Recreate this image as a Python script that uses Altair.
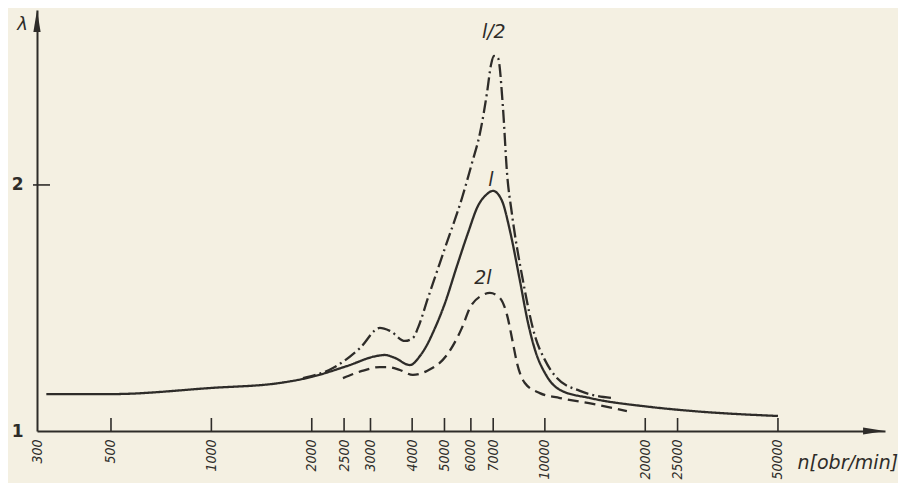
import altair as alt
import pandas as pd
import math

# ---- data ----
# solid curve "l"
l_n = [320, 500, 1000, 1600, 2000, 2550, 3135, 3310, 3550, 3940, 4222, 4432, 4618, 5018, 5451, 5882,
       6302, 6660, 6990, 7440, 7860, 8420, 8900, 9340, 10080, 11100, 13650, 20650, 27800, 50000]
l_lam = [1.15, 1.15, 1.175, 1.195, 1.22, 1.264, 1.305, 1.309, 1.297, 1.268, 1.305, 1.35, 1.40, 1.52,
         1.671, 1.805, 1.915, 1.959, 1.976, 1.935, 1.813, 1.61, 1.44, 1.33, 1.228, 1.167, 1.134,
         1.098, 1.081, 1.061]

# dash-dot curve "l/2"
h_n = [1883, 2315, 2790, 3200, 3430, 3805, 4022, 4164, 4463, 5018, 5643, 6046, 6390, 6706, 6894,
       7038, 7235, 7489, 7700, 7960, 8600, 9340, 10000, 10870, 12740, 15900]
h_lam = [1.215, 1.256, 1.337, 1.419, 1.407, 1.366, 1.378, 1.419, 1.541, 1.744, 1.947, 2.089, 2.211,
         2.374, 2.488, 2.524, 2.516, 2.313, 2.049, 1.886, 1.61, 1.386, 1.289, 1.215, 1.163, 1.134]

# dashed curve "2l"
d_n = [2480, 2830, 3200, 3385, 3675, 4020, 4430, 5085, 5640, 5960, 6520, 6840, 7330, 7700, 8020,
       8250, 8710, 9660, 11100, 13930, 17620]
d_lam = [1.215, 1.244, 1.26, 1.26, 1.248, 1.228, 1.244, 1.309, 1.419, 1.5, 1.553, 1.561, 1.541,
         1.472, 1.358, 1.276, 1.195, 1.154, 1.134, 1.11, 1.081]

series_names = ["l", "l/2", "2l"]

# curve labels
lab_text = ["l/2", "l", "2l"]
lab_n = [7030, 6890, 6520]
lab_lam = [2.62, 2.02, 1.62]

x_ticks = [300, 500, 1000, 2000, 2500, 3000, 4000, 5000, 6000, 7000, 10000, 20000, 25000, 50000]
y_ticks = [1, 2]

# ---- frame ----
X_MIN, X_MAX = 300, 104700
Y_MIN, Y_MAX = 1.0, 2.711
W, H = 848, 421
INK = "#2e2c29"
PAPER = "#f4f0e2"
FONT = "DejaVu Sans"
NUMFONT = "DejaVu Sans Condensed, DejaVu Sans"

rows = []
for name, ns, ls in [("l", l_n, l_lam), ("l/2", h_n, h_lam), ("2l", d_n, d_lam)]:
    for n, v in zip(ns, ls):
        rows.append({"series": name, "n": n, "lam": v})
curves = pd.DataFrame(rows)

xscale = alt.Scale(type="log", domain=[X_MIN, X_MAX], nice=False)
yscale = alt.Scale(domain=[Y_MIN, Y_MAX], nice=False, zero=False)

xaxis = alt.Axis(values=x_ticks, format="d", labelAngle=-90, labelFlush=False, labelOverlap=False,
                 grid=False, ticks=False, domain=True, domainColor=INK, domainWidth=2,
                 labelFont=NUMFONT, labelFontSize=14, labelFontStyle="italic", labelColor=INK,
                 labelPadding=8,
                 title="n[obr/min]", titleAngle=0, titleAlign="left", titleBaseline="alphabetic",
                 titleX=760, titleY=37, titleFont=FONT, titleFontSize=19, titleFontStyle="italic",
                 titleFontWeight="normal", titleColor=INK)
yaxis = alt.Axis(values=y_ticks, format="d", grid=False, ticks=False, domain=True, domainColor=INK,
                 domainWidth=2, labelFont=FONT, labelFontSize=17, labelFontWeight="bold",
                 labelColor=INK, labelPadding=14,
                 title="λ", titleAngle=0, titleAlign="center", titleBaseline="middle",
                 titleX=-15, titleY=14, titleFont=FONT, titleFontSize=18,
                 titleFontStyle="italic", titleFontWeight="normal", titleColor=INK)

base = alt.Chart(curves)

lines = base.mark_line(interpolate="monotone", strokeWidth=2.3, color=INK).encode(
    x=alt.X("n:Q", scale=xscale, axis=xaxis),
    y=alt.Y("lam:Q", scale=yscale, axis=yaxis),
    detail="series:N",
    strokeDash=alt.StrokeDash("series:N", legend=None,
                              scale=alt.Scale(domain=series_names,
                                              range=[[1, 0], [13, 4, 2, 4], [11, 6]])),
)

# x ticks pointing inward
tick_len = 13 / (H / (Y_MAX - Y_MIN))
xt = alt.Chart(pd.DataFrame({"n": x_ticks[1:]})).mark_rule(color=INK, strokeWidth=1.6).encode(
    x=alt.X("n:Q", scale=xscale),
    y=alt.datum(Y_MIN),
    y2=alt.datum(Y_MIN + tick_len),
)
# y tick at 2
px_per_dec = W / math.log10(X_MAX / X_MIN)
yt = alt.Chart(pd.DataFrame({"lam": [2]})).mark_rule(color=INK, strokeWidth=1.6).encode(
    y=alt.Y("lam:Q", scale=yscale),
    x=alt.datum(X_MIN / 10 ** (4 / px_per_dec)),
    x2=alt.datum(X_MIN * 10 ** (13 / px_per_dec)),
)

# arrow heads
arrow_df = pd.DataFrame({
    "n": [X_MIN, X_MAX / 10 ** (11 / px_per_dec)],
    "lam": [Y_MAX - 11 / (H / (Y_MAX - Y_MIN)), Y_MIN],
    "shape": ["M0,-1L0.33,1L-0.33,1Z", "M1,0L-1,0.33L-1,-0.33Z"],
})
arrows = alt.Chart(arrow_df).mark_point(filled=True, opacity=1, color=INK, size=480).encode(
    x=alt.X("n:Q", scale=xscale),
    y=alt.Y("lam:Q", scale=yscale),
    shape=alt.Shape("shape:N", scale=None),
)

labels = alt.Chart(pd.DataFrame({"t": lab_text, "n": lab_n, "lam": lab_lam})).mark_text(
    font=FONT, fontSize=19, fontStyle="italic", color=INK, baseline="middle", align="center"
).encode(
    x=alt.X("n:Q", scale=xscale),
    y=alt.Y("lam:Q", scale=yscale),
    text="t:N",
)

chart = alt.layer(lines, xt, yt, arrows, labels).properties(
    width=W, height=H,
    autosize=alt.AutoSizeParams(type="none"),
    padding={"left": 29, "top": 2, "right": 13, "bottom": 52},
    background=PAPER,
).configure_view(stroke=None)

chart.save("out.html", embed_options={"renderer": "svg", "actions": False})
